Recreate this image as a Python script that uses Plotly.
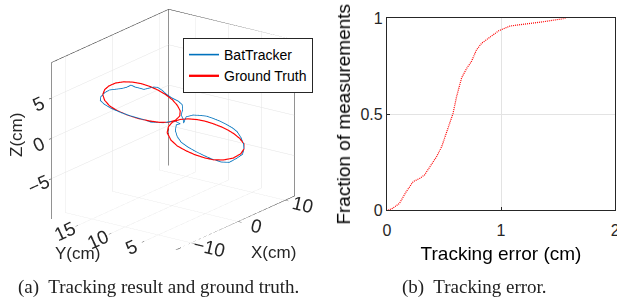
import plotly.graph_objects as go

# ---------------- data: 3-D trajectory (cm) ----------------
# Ground truth: two loops
gt_up_x = [-11.37, -11.07, -10.48, -9.46, -8.28, -6.96, -5.64, -4.32, -3.14, -1.97, -0.94, -0.21,
           0.23, 0.16, -0.50, -1.53, -2.85, -4.46, -6.08, -7.69, -9.16, -10.34, -11.07, -11.37]
gt_up_y = [12.41, 12.32, 12.14, 11.84, 11.48, 11.09, 10.69, 10.30, 9.94, 9.59, 9.28, 9.06,
           8.93, 8.95, 9.15, 9.46, 9.86, 10.34, 10.82, 11.31, 11.75, 12.10, 12.32, 12.41]
gt_up_z = [6.31, 6.86, 7.18, 7.34, 7.25, 6.95, 6.49, 5.87, 5.19, 4.38, 3.52, 2.68,
           1.90, 1.28, 0.88, 0.84, 1.11, 1.63, 2.26, 3.02, 3.84, 4.69, 5.52, 6.31]

gt_lo_x = [-1.72, -1.53, -0.94, 0.23, 1.45, 2.73, 3.91, 5.08, 6.36, 7.43, 8.31, 9.12,
           9.78, 9.78, 9.30, 8.16, 6.70, 5.23, 3.91, 2.44, 1.12, -0.21, -1.16, -1.72]
gt_lo_y = [9.52, 9.46, 9.28, 8.93, 8.57, 8.18, 7.83, 7.48, 7.09, 6.77, 6.51, 6.26,
           6.07, 6.07, 6.21, 6.55, 6.99, 7.43, 7.83, 8.27, 8.66, 9.06, 9.35, 9.52]
gt_lo_z = [-0.39, 0.30, 0.75, 0.84, 0.66, 0.31, -0.12, -0.66, -1.33, -1.98, -2.61, -3.33,
           -4.15, -4.79, -5.28, -5.58, -5.51, -5.19, -4.69, -3.99, -3.24, -2.36, -1.43, -0.39]

# BatTracker estimate
bt_x = [-4.17, -5.64, -7.11, -8.58, -10.04, -11.07, -11.73, -11.66, -11.07, -10.34, -9.46, -8.58,
        -7.84, -7.11, -6.52, -5.93, -5.20, -4.46, -3.73, -3.14, -2.56, -1.82, -0.94, -0.06,
        0.53, 0.60, 0.38, 0.68, 0.75, 1.12, 2.14, 3.17, 4.20, 5.23, 6.11, 7.14, 8.02, 8.75,
        9.34, 9.71, 9.78, 9.56, 8.75, 7.58, 6.40, 5.08, 3.91, 2.58, 1.41, 0.38, -0.21, -0.50,
        -0.35, 0.23, -0.50, -1.23, -2.26, -3.29, -4.17]
bt_y = [10.25, 10.69, 11.13, 11.57, 12.01, 12.32, 12.52, 12.50, 12.32, 12.10, 11.84, 11.57,
        11.35, 11.13, 10.96, 10.78, 10.56, 10.34, 10.12, 9.94, 9.77, 9.55, 9.28, 9.02,
        8.84, 8.82, 8.89, 8.80, 8.78, 8.66, 8.36, 8.05, 7.74, 7.43, 7.17, 6.86, 6.59, 6.37,
        6.20, 6.09, 6.07, 6.13, 6.37, 6.73, 7.08, 7.48, 7.83, 8.23, 8.58, 8.89, 9.06, 9.15,
        9.11, 8.93, 9.15, 9.37, 9.68, 9.99, 10.25]
bt_z = [1.41, 2.12, 2.77, 3.48, 4.29, 5.01, 5.64, 6.07, 6.48, 6.67, 6.57, 6.48,
        6.47, 6.60, 6.24, 6.00, 5.68, 5.68, 5.67, 5.51, 5.08, 4.38, 3.71, 3.17,
        2.61, 1.96, 1.36, 0.80, 0.28, 0.98, 0.99, 0.74, 0.43, -0.08, -0.55, -1.19, -1.79, -2.43,
        -3.30, -4.13, -4.79, -5.39, -5.69, -5.99, -5.71, -5.10, -4.44, -3.63, -2.84, -2.02, -1.21, -0.39,
        0.28, 0.31, 0.76, 0.89, 0.94, 1.19, 1.41]

# axis limits / ticks of the 3-D box
x_lim = [-13, 12]
y_lim = [0, 19]
z_lim = [-10, 9.4]
x_ticks = [-10, 0, 10]
y_ticks = [5, 10, 15]
z_ticks = [-5, 0, 5]

# ---------------- data: CDF of tracking error ----------------
err_cm = [0.01, 0.05, 0.11, 0.17, 0.23, 0.29, 0.33, 0.375, 0.435, 0.48, 0.52, 0.55, 0.58,
          0.61, 0.655, 0.70, 0.74, 0.785, 0.83, 0.89, 0.98, 1.08, 1.23, 1.37, 1.565]
frac = [0.0, 0.01, 0.036, 0.097, 0.149, 0.167, 0.184, 0.227, 0.279, 0.331, 0.401, 0.453, 0.505,
        0.59, 0.69, 0.74, 0.774, 0.835, 0.87, 0.896, 0.935, 0.96, 0.97, 0.982, 1.0]
cdf_xticks = [0, 1, 2]
cdf_yticks = [0, 0.5, 1]
cdf_yticktext = ["0", "0.5", "1"]

AX = "#262626"
FONT = "Liberation Sans"
BLUE = "#0072BD"
RED = "#FF0000"

fig = go.Figure()

# box edges (MATLAB style back box)
x0, x1 = x_lim
y0, y1 = y_lim
z0, z1 = z_lim
ex, ey, ez = [], [], []
for seg in [((x0, y1, z0), (x0, y1, z1)), ((x1, y1, z0), (x1, y1, z1)), ((x1, y0, z0), (x1, y0, z1)),
            ((x0, y1, z1), (x1, y1, z1)), ((x1, y1, z1), (x1, y0, z1)),
            ((x0, y0, z0), (x0, y1, z0)), ((x0, y0, z0), (x1, y0, z0))]:
    for p in seg:
        ex.append(p[0]); ey.append(p[1]); ez.append(p[2])
    ex.append(None); ey.append(None); ez.append(None)
fig.add_trace(go.Scatter3d(x=ex, y=ey, z=ez, mode="lines", line=dict(color=AX, width=1),
                           showlegend=False, hoverinfo="skip"))

fig.add_trace(go.Scatter3d(x=bt_x, y=bt_y, z=bt_z, mode="lines", name="BatTracker",
                           line=dict(color=BLUE, width=1.6), hoverinfo="skip"))
fig.add_trace(go.Scatter3d(x=gt_up_x + [None] + gt_lo_x, y=gt_up_y + [None] + gt_lo_y,
                           z=gt_up_z + [None] + gt_lo_z, mode="lines", name="Ground Truth",
                           connectgaps=False, line=dict(color=RED, width=2.3), hoverinfo="skip"))

fig.add_trace(go.Scatter(x=err_cm, y=frac, mode="lines", showlegend=False,
                         line=dict(color=RED, width=1.2, dash="1px,1px"), xaxis="x", yaxis="y",
                         hoverinfo="skip"))

def ax3(rng, tv):
    return dict(title=dict(text=""), range=rng, tickvals=tv, autorange=False,
                showbackground=False, showgrid=True, gridcolor="#e3e3e3", gridwidth=1,
                showline=False, zeroline=False, ticks="outside", ticklen=4, tickcolor=AX,
                tickfont=dict(family=FONT, size=15, color=AX), showspikes=False)

fig.update_layout(
    width=617, height=305, margin=dict(l=0, r=0, t=0, b=0, pad=0, autoexpand=False),
    paper_bgcolor="white", plot_bgcolor="white",
    scene=dict(
        domain=dict(x=[0.0, 0.56], y=[0.06, 1.0]),
        xaxis=ax3(x_lim, x_ticks),
        yaxis=ax3(y_lim, y_ticks),
        zaxis=ax3(z_lim, z_ticks),
        aspectmode="manual", aspectratio=dict(x=1.39, y=1.085, z=1.155),
        camera=dict(projection=dict(type="orthographic"),
                    eye=dict(x=-0.777 * 1.8, y=-0.565 * 1.8, z=0.278 * 1.8),
                    up=dict(x=0, y=0, z=1), center=dict(x=0, y=0, z=-0.105)),
    ),
    xaxis=dict(domain=[0.627, 0.997], anchor="y", range=[0, 2], tickvals=cdf_xticks,
               automargin=False, ticklabeloverflow="allow", ticklabelstandoff=6,
               showline=True, mirror=True, linecolor=AX, linewidth=1, ticks="inside", ticklen=3,
               tickcolor=AX, showgrid=True, gridcolor="#e3e3e3", zeroline=False,
               tickfont=dict(family=FONT, size=16, color=AX),
               title=dict(text="Tracking error (cm)", font=dict(family=FONT, size=19, color="#000"), standoff=8)),
    yaxis=dict(domain=[0.3105, 0.94], anchor="x", range=[0, 1], tickvals=cdf_yticks,
               ticktext=cdf_yticktext, automargin=False, ticklabeloverflow="allow",
               showline=True, mirror=True, linecolor=AX, linewidth=1, ticks="inside", ticklen=3,
               tickcolor=AX, showgrid=True, gridcolor="#e3e3e3", zeroline=False,
               tickfont=dict(family=FONT, size=16, color=AX),
               title=dict(text="Fraction of measurements", font=dict(family=FONT, size=19, color="#000"), standoff=4)),
    legend=dict(x=0.2966, y=0.8754, xanchor="left", yanchor="top", bgcolor="white",
                bordercolor=AX, borderwidth=1, font=dict(family=FONT, size=14, color="#000"),
                itemwidth=30, tracegroupgap=0),
    annotations=[
        dict(text="X(cm)", x=273 / 617, y=1 - 252 / 305, xref="paper", yref="paper",
             xanchor="center", yanchor="middle", showarrow=False,
             font=dict(family=FONT, size=17, color=AX)),
        dict(text="Y(cm)", x=77 / 617, y=1 - 253 / 305, xref="paper", yref="paper",
             xanchor="center", yanchor="middle", showarrow=False,
             font=dict(family=FONT, size=17, color=AX)),
        dict(text="Z(cm)", x=16 / 617, y=1 - 135 / 305, xref="paper", yref="paper",
             xanchor="center", yanchor="middle", showarrow=False, textangle=-90,
             font=dict(family=FONT, size=17, color=AX)),
        dict(text="(a)  Tracking result and ground truth.", x=159 / 617, y=1 - 287 / 305,
             xref="paper", yref="paper", xanchor="center", yanchor="middle", showarrow=False,
             font=dict(family="Liberation Serif", size=19, color="#222")),
        dict(text="(b)  Tracking error.", x=474 / 617, y=1 - 287 / 305,
             xref="paper", yref="paper", xanchor="center", yanchor="middle", showarrow=False,
             font=dict(family="Liberation Serif", size=19, color="#222")),
    ],
)

fig.write_html("out.html", config={"displayModeBar": False},
               post_script="document.body.style.margin='0';")
